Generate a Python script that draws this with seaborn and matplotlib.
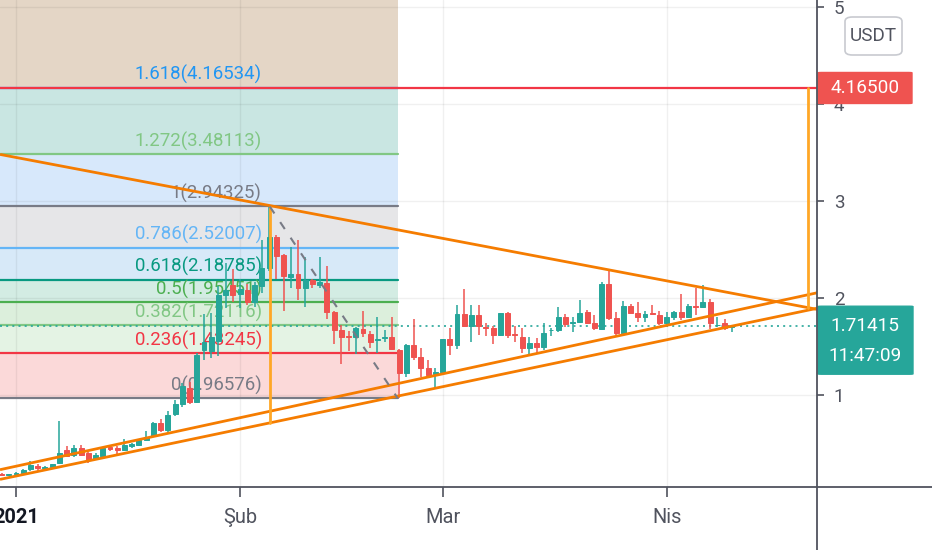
import seaborn as sns
import matplotlib.pyplot as plt
import matplotlib.patches as mpatches
import matplotlib.lines as mlines
from matplotlib.transforms import blended_transform_factory
import pandas as pd
import numpy as np

# daily candles, day 0 = 1 Jan 2021
days = list(range(-2, 100))
opens = [0.19, 0.175, 0.185, 0.20, 0.235, 0.27, 0.245, 0.26, 0.295, 0.43,
         0.38, 0.45, 0.40, 0.34, 0.37, 0.46, 0.45, 0.43, 0.47, 0.48,
         0.54, 0.58, 0.715, 0.64, 0.80, 0.91, 1.07, 0.93, 1.46, 1.45,
         1.56, 2.03, 2.13, 2.04, 2.08, 1.96, 2.12, 2.31, 2.63, 2.44,
         2.22, 2.25, 2.10, 2.19, 2.13, 2.15, 1.86, 1.67, 1.61, 1.60,
         1.68, 1.63, 1.565, 1.585, 1.60, 1.46, 1.223, 1.515, 1.395, 1.275,
         1.22, 1.24, 1.574, 1.515, 1.832, 1.711, 1.825, 1.70, 1.687, 1.619,
         1.849, 1.625, 1.595, 1.481, 1.533, 1.498, 1.665, 1.670, 1.808, 1.745,
         1.756, 1.859, 1.746, 1.680, 2.141, 1.790, 1.636, 1.918, 1.845, 1.801,
         1.845, 1.825, 1.739, 1.801, 1.852, 1.808, 1.915, 1.911, 1.962, 1.720,
         1.739, 1.700]
highs = [0.20, 0.19, 0.21, 0.24, 0.32, 0.29, 0.27, 0.29, 0.735, 0.47,
         0.48, 0.48, 0.41, 0.40, 0.46, 0.47, 0.47, 0.55, 0.51, 0.55,
         0.63, 0.72, 0.75, 0.84, 0.95, 1.12, 1.13, 1.43, 1.83, 1.85,
         2.12, 2.36, 2.30, 2.20, 2.14, 2.16, 2.60, 2.943, 2.65, 2.45,
         2.53, 2.60, 2.42, 2.20, 2.42, 2.33, 1.87, 1.72, 1.66, 1.70,
         1.87, 1.66, 1.80, 1.67, 1.80, 1.47, 1.53, 1.78, 1.48, 1.36,
         1.275, 1.58, 1.687, 1.928, 2.09, 1.928, 1.928, 1.739, 1.711, 1.85,
         1.859, 1.711, 1.687, 1.595, 1.584, 1.739, 1.687, 1.904, 1.835, 1.808,
         1.979, 1.876, 1.825, 2.168, 2.296, 1.859, 1.972, 1.935, 1.962, 1.870,
         1.928, 1.870, 1.859, 1.870, 2.038, 1.935, 2.10, 2.134, 1.986, 1.808,
         1.780, 1.722]
lows = [0.17, 0.17, 0.18, 0.19, 0.22, 0.22, 0.23, 0.25, 0.29, 0.36,
        0.36, 0.37, 0.30, 0.33, 0.36, 0.42, 0.38, 0.42, 0.45, 0.47,
        0.53, 0.57, 0.62, 0.60, 0.78, 0.88, 0.91, 0.92, 1.36, 1.38,
        1.40, 1.90, 1.96, 1.90, 1.93, 1.91, 2.05, 2.28, 2.20, 1.87,
        2.10, 1.98, 1.91, 2.10, 2.10, 1.78, 1.53, 1.32, 1.45, 1.42,
        1.60, 1.48, 1.43, 1.55, 1.46, 0.966, 1.19, 1.36, 1.19, 1.19,
        1.07, 1.23, 1.412, 1.471, 1.704, 1.55, 1.619, 1.608, 1.522, 1.61,
        1.584, 1.55, 1.43, 1.412, 1.43, 1.464, 1.608, 1.653, 1.704, 1.653,
        1.739, 1.732, 1.670, 1.670, 1.773, 1.619, 1.636, 1.842, 1.756, 1.756,
        1.825, 1.722, 1.732, 1.773, 1.773, 1.790, 1.825, 1.893, 1.68, 1.70,
        1.670, 1.653]
closes = [0.18, 0.185, 0.195, 0.225, 0.28, 0.25, 0.26, 0.285, 0.405, 0.37,
          0.45, 0.38, 0.33, 0.38, 0.45, 0.44, 0.43, 0.48, 0.49, 0.535,
          0.57, 0.71, 0.64, 0.79, 0.91, 1.09, 0.93, 1.41, 1.55, 1.60,
          2.03, 2.08, 2.03, 2.09, 1.96, 2.13, 2.31, 2.63, 2.43, 2.23,
          2.25, 2.10, 2.19, 2.14, 2.17, 1.86, 1.67, 1.60, 1.60, 1.69,
          1.64, 1.55, 1.575, 1.595, 1.47, 1.23, 1.515, 1.395, 1.275, 1.206,
          1.24, 1.574, 1.515, 1.832, 1.711, 1.825, 1.711, 1.69, 1.619, 1.849,
          1.619, 1.615, 1.481, 1.533, 1.498, 1.643, 1.675, 1.808, 1.732, 1.752,
          1.849, 1.746, 1.687, 2.141, 1.790, 1.636, 1.918, 1.849, 1.801, 1.835,
          1.838, 1.739, 1.801, 1.852, 1.808, 1.918, 1.905, 1.962, 1.739, 1.726,
          1.687, 1.714]

# fibonacci retracement (high 5 Feb -> low 22 Feb)
fib_labels = ["0", "0.236", "0.382", "0.5", "0.618", "0.786", "1", "1.272", "1.618"]
fib_prices = [0.96576, 1.43245, 1.72116, 1.95451, 2.18785, 2.52007, 2.94325, 3.48113, 4.16534]
fib_line_colors = ["#787b86", "#f23645", "#81c784", "#4caf50", "#089981",
                   "#64b5f6", "#787b86", "#81c784", "#2962ff"]
fib_text_colors = ["#787b86", "#f23645", "#81c784", "#4caf50", "#089981",
                   "#64b5f6", "#787b86", "#81c784", "#2196f3"]
fib_band_colors = ["#fbd9d9", "#e4f3e4", "#dcefdc", "#d3ece3", "#d7e9f8",
                   "#e6e6e8", "#d7e8fb", "#c9e6e2", "#e4d6c6"]
fib_end_day = 52.8
fib_label_day = 34.0

# drawn trendlines (day, price)
resistance = ([-2.2, 111.0], [3.48, 1.88])
support_a = ([-2.21, 111.2], [0.23, 2.06])
support_b = ([-2.21, 111.2], [0.13, 1.90])
range_left = ([35.1, 35.1], [2.943, 0.71])
range_right = ([109.5, 109.5], [4.165, 1.90])
fib_trend = ([35.1, 52.8], [2.943, 0.966])

target_price = 4.165
last_price = 1.71415
month_ticks = [0, 31, 59, 90]
month_labels = ["2021", "Şub", "Mar", "Nis"]

sns.set_theme(style="white")
plt.rcParams['font.family'] = ['Roboto', 'DejaVu Sans']

W, H = 932, 550
fig = plt.figure(figsize=(W / 100, H / 100), dpi=100)
ax = fig.add_axes([0, 63 / H, 817 / W, 487 / H])
xmin, xmax = -2.213, 110.79
ymin, ymax = 0.0515, 5.072
ax.set_xlim(xmin, xmax)
ax.set_ylim(ymin, ymax)
ax.set_axisbelow('line')

# fib bands
edges = fib_prices + [ymax]
for i, c in enumerate(fib_band_colors):
    ax.fill_between([xmin, fib_end_day], edges[i], edges[i + 1], color=c, lw=0, zorder=0.5)
ax.grid(True, color="#000000", alpha=0.06, lw=1)
for lab, p, lc, tc in zip(fib_labels, fib_prices, fib_line_colors, fib_text_colors):
    ax.plot([xmin, fib_end_day], [p, p], color=lc, lw=1.6, zorder=2)
    ax.annotate(f"{lab}({p:.5f})", xy=(fib_label_day, p), xytext=(0, 2.5),
                textcoords="offset points", ha="right", va="bottom",
                color=tc, fontsize=13.4, zorder=2.2)

ax.axhline(target_price, color="#f23645", lw=1.6, zorder=2.5)
ax.axhline(last_price, color="#26a69a", lw=1.2, ls=(0, (1.2, 2.5)), zorder=2.5)

# candles
df = pd.DataFrame({"day": days, "open": opens, "high": highs, "low": lows, "close": closes})
up = df["close"] >= df["open"]
cols = np.where(up, "#26a69a", "#ef5350")
ax.vlines(df["day"], df["low"], df["high"], colors=cols, lw=1.1, zorder=3)
body_lo = df[["open", "close"]].min(axis=1)
body_h = (df["close"] - df["open"]).abs()
ax.bar(df["day"], body_h, bottom=body_lo, width=0.68, color=cols, edgecolor=cols,
       linewidth=0.7, zorder=3.1)

# trendlines
orange = "#f57c00"
for xs, ys in [resistance, support_a, support_b]:
    ax.plot(xs, ys, color=orange, lw=2, zorder=4, solid_capstyle="butt")
for xs, ys in [range_left, range_right]:
    ax.plot(xs, ys, color="#ffa726", lw=2, zorder=4)
ax.plot(*fib_trend, color="#787b86", lw=1.5, ls=(0, (4, 5)), zorder=4)

for s in ax.spines.values():
    s.set_visible(False)

ax.set_xticks(month_ticks)
ax.set_xticklabels(month_labels)
ax.yaxis.tick_right()
ax.set_yticks([1, 2, 3, 4, 5])
ax.tick_params(axis="x", direction="out", length=7, width=1.2, color="#50535e",
               labelsize=14.4, labelcolor="#50535e", pad=8, bottom=True)
ax.tick_params(axis="y", direction="out", length=5, width=1.2, color="#50535e",
               labelsize=13.5, labelcolor="#50535e", pad=7, right=True, left=False)
lbl = ax.get_xticklabels()[0]
lbl.set_fontweight("bold")
lbl.set_color("#131722")

# axis frame lines
fig.add_artist(mlines.Line2D([0, 1], [63 / H, 63 / H], color="#50535e", lw=1.3))
fig.add_artist(mlines.Line2D([817 / W, 817 / W], [0, 1], color="#50535e", lw=1.3))

# price boxes on the scale
tr = blended_transform_factory(ax.transAxes, ax.transData)
ax_w = 817
ax.add_patch(mpatches.FancyBboxPatch((1 + 1 / ax_w, target_price - 15.5 / 97), 94 / ax_w, 31 / 97,
                                     boxstyle="round,pad=0,rounding_size=0.004",
                                     transform=tr, clip_on=False, color="#ef5350", zorder=6))
ax.text(1 + 48 / ax_w, target_price, "4.16500", transform=tr, ha="center", va="center",
        color="white", fontsize=13.7, clip_on=False, zorder=7)
ax.add_patch(mpatches.FancyBboxPatch((1 + 1 / ax_w, last_price - 48.5 / 97), 95 / ax_w, 68 / 97,
                                     boxstyle="round,pad=0,rounding_size=0.004",
                                     transform=tr, clip_on=False, color="#26a69a", zorder=6))
ax.text(1 + 48 / ax_w, last_price, "1.71415", transform=tr, ha="center", va="center",
        color="white", fontsize=13.7, clip_on=False, zorder=7)
ax.text(1 + 48 / ax_w, last_price - 30 / 97, "11:47:09", transform=tr, ha="center", va="center",
        color="white", fontsize=13.7, clip_on=False, zorder=7)

fig.add_artist(mpatches.FancyBboxPatch((845 / W, 1 - 55 / H), 57 / W, 38 / H,
                                       boxstyle="round,pad=0,rounding_size=0.008",
                                       transform=fig.transFigure, facecolor="white",
                                       edgecolor="#c8cad0", lw=1.2))
fig.text(873.5 / W, 1 - 36 / H, "USDT", ha="center", va="center", color="#50535e", fontsize=13.6)

fig.savefig("out.png", dpi=100)
